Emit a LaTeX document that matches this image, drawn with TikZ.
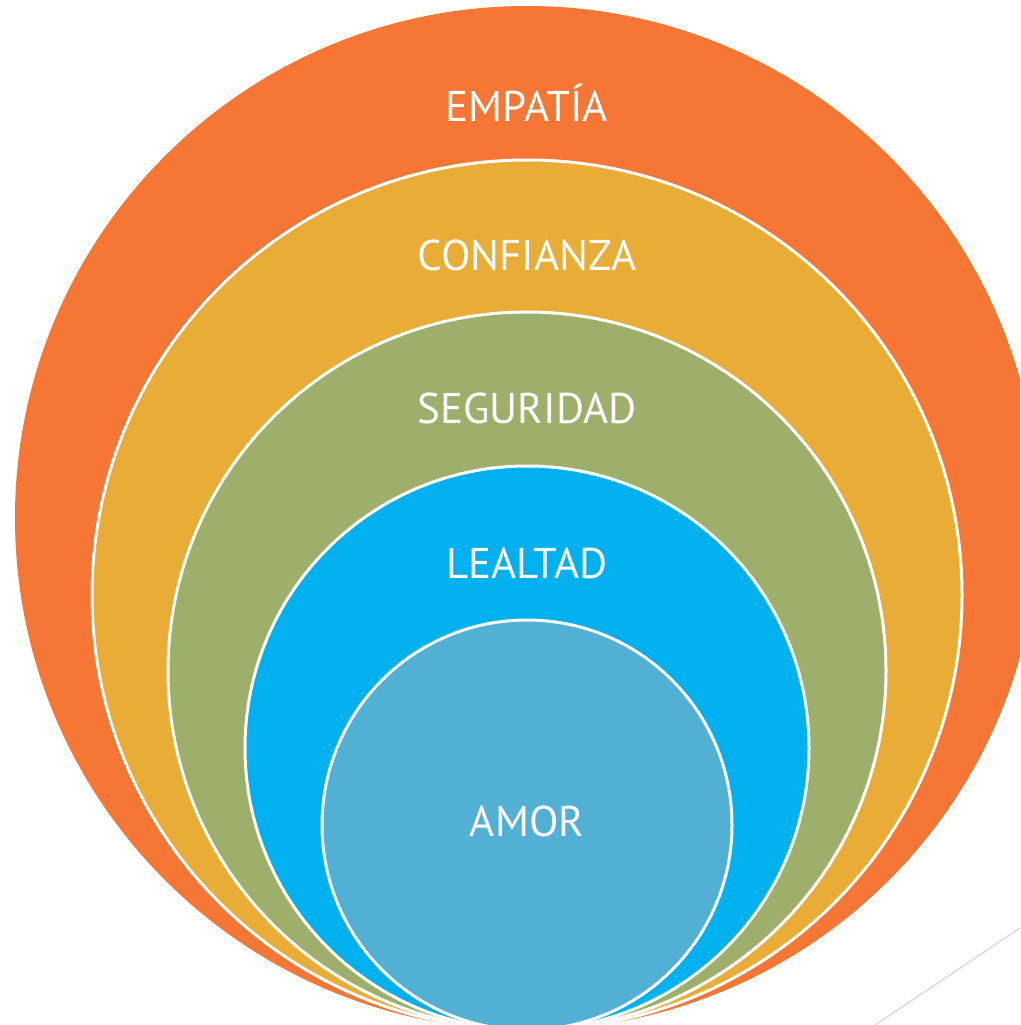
\documentclass[tikz,border=0pt]{standalone}
\usepackage{fontspec}
\setmainfont{PT Sans}
\begin{document}
\begin{tikzpicture}[x=1pt,y=-1pt,
  ring/.style={circle,draw=white,line width=3pt,inner sep=0pt,minimum size=#1},
  lbl/.style={text=white,font=\fontsize{43}{50}\selectfont,inner sep=0pt}]
\definecolor{cEmp}{HTML}{F67735}
\definecolor{cCon}{HTML}{E9AC36}
\definecolor{cSeg}{HTML}{9DAF6A}
\definecolor{cLea}{HTML}{00B0EF}
\definecolor{cAmo}{HTML}{52B0D5}
\useasboundingbox (0,0) rectangle (1020,1025);
\clip (0,0) rectangle (1020,1025);
\fill[white] (0,0) rectangle (1020,1025);
\node[ring=1024pt,fill=cEmp,draw=none] (emp) at (527,518) {};
\node[ring=870pt,fill=cCon] (con) at (527,595) {};
\node[ring=718pt,fill=cSeg] (seg) at (527,671) {};
\node[ring=564pt,fill=cLea] (lea) at (527,748) {};
\node[ring=410pt,fill=cAmo] (amo) at (527,825) {};
\node[lbl] (tEmp) at (527,103) {EMPATÍA};
\node[lbl] (tCon) at (527,255) {CONFIANZA};
\node[lbl] (tSeg) at (527,408) {SEGURIDAD};
\node[lbl] (tLea) at (527,563) {LEALTAD};
\node[lbl] (tAmo) at (527,821) {AMOR};
\coordinate (g1) at (875,1025);
\coordinate (g2) at (1020,928);
\draw[draw={rgb,255:red,217;green,217;blue,217},line width=1.3pt] (g1) -- (g2);
\end{tikzpicture}
\end{document}
